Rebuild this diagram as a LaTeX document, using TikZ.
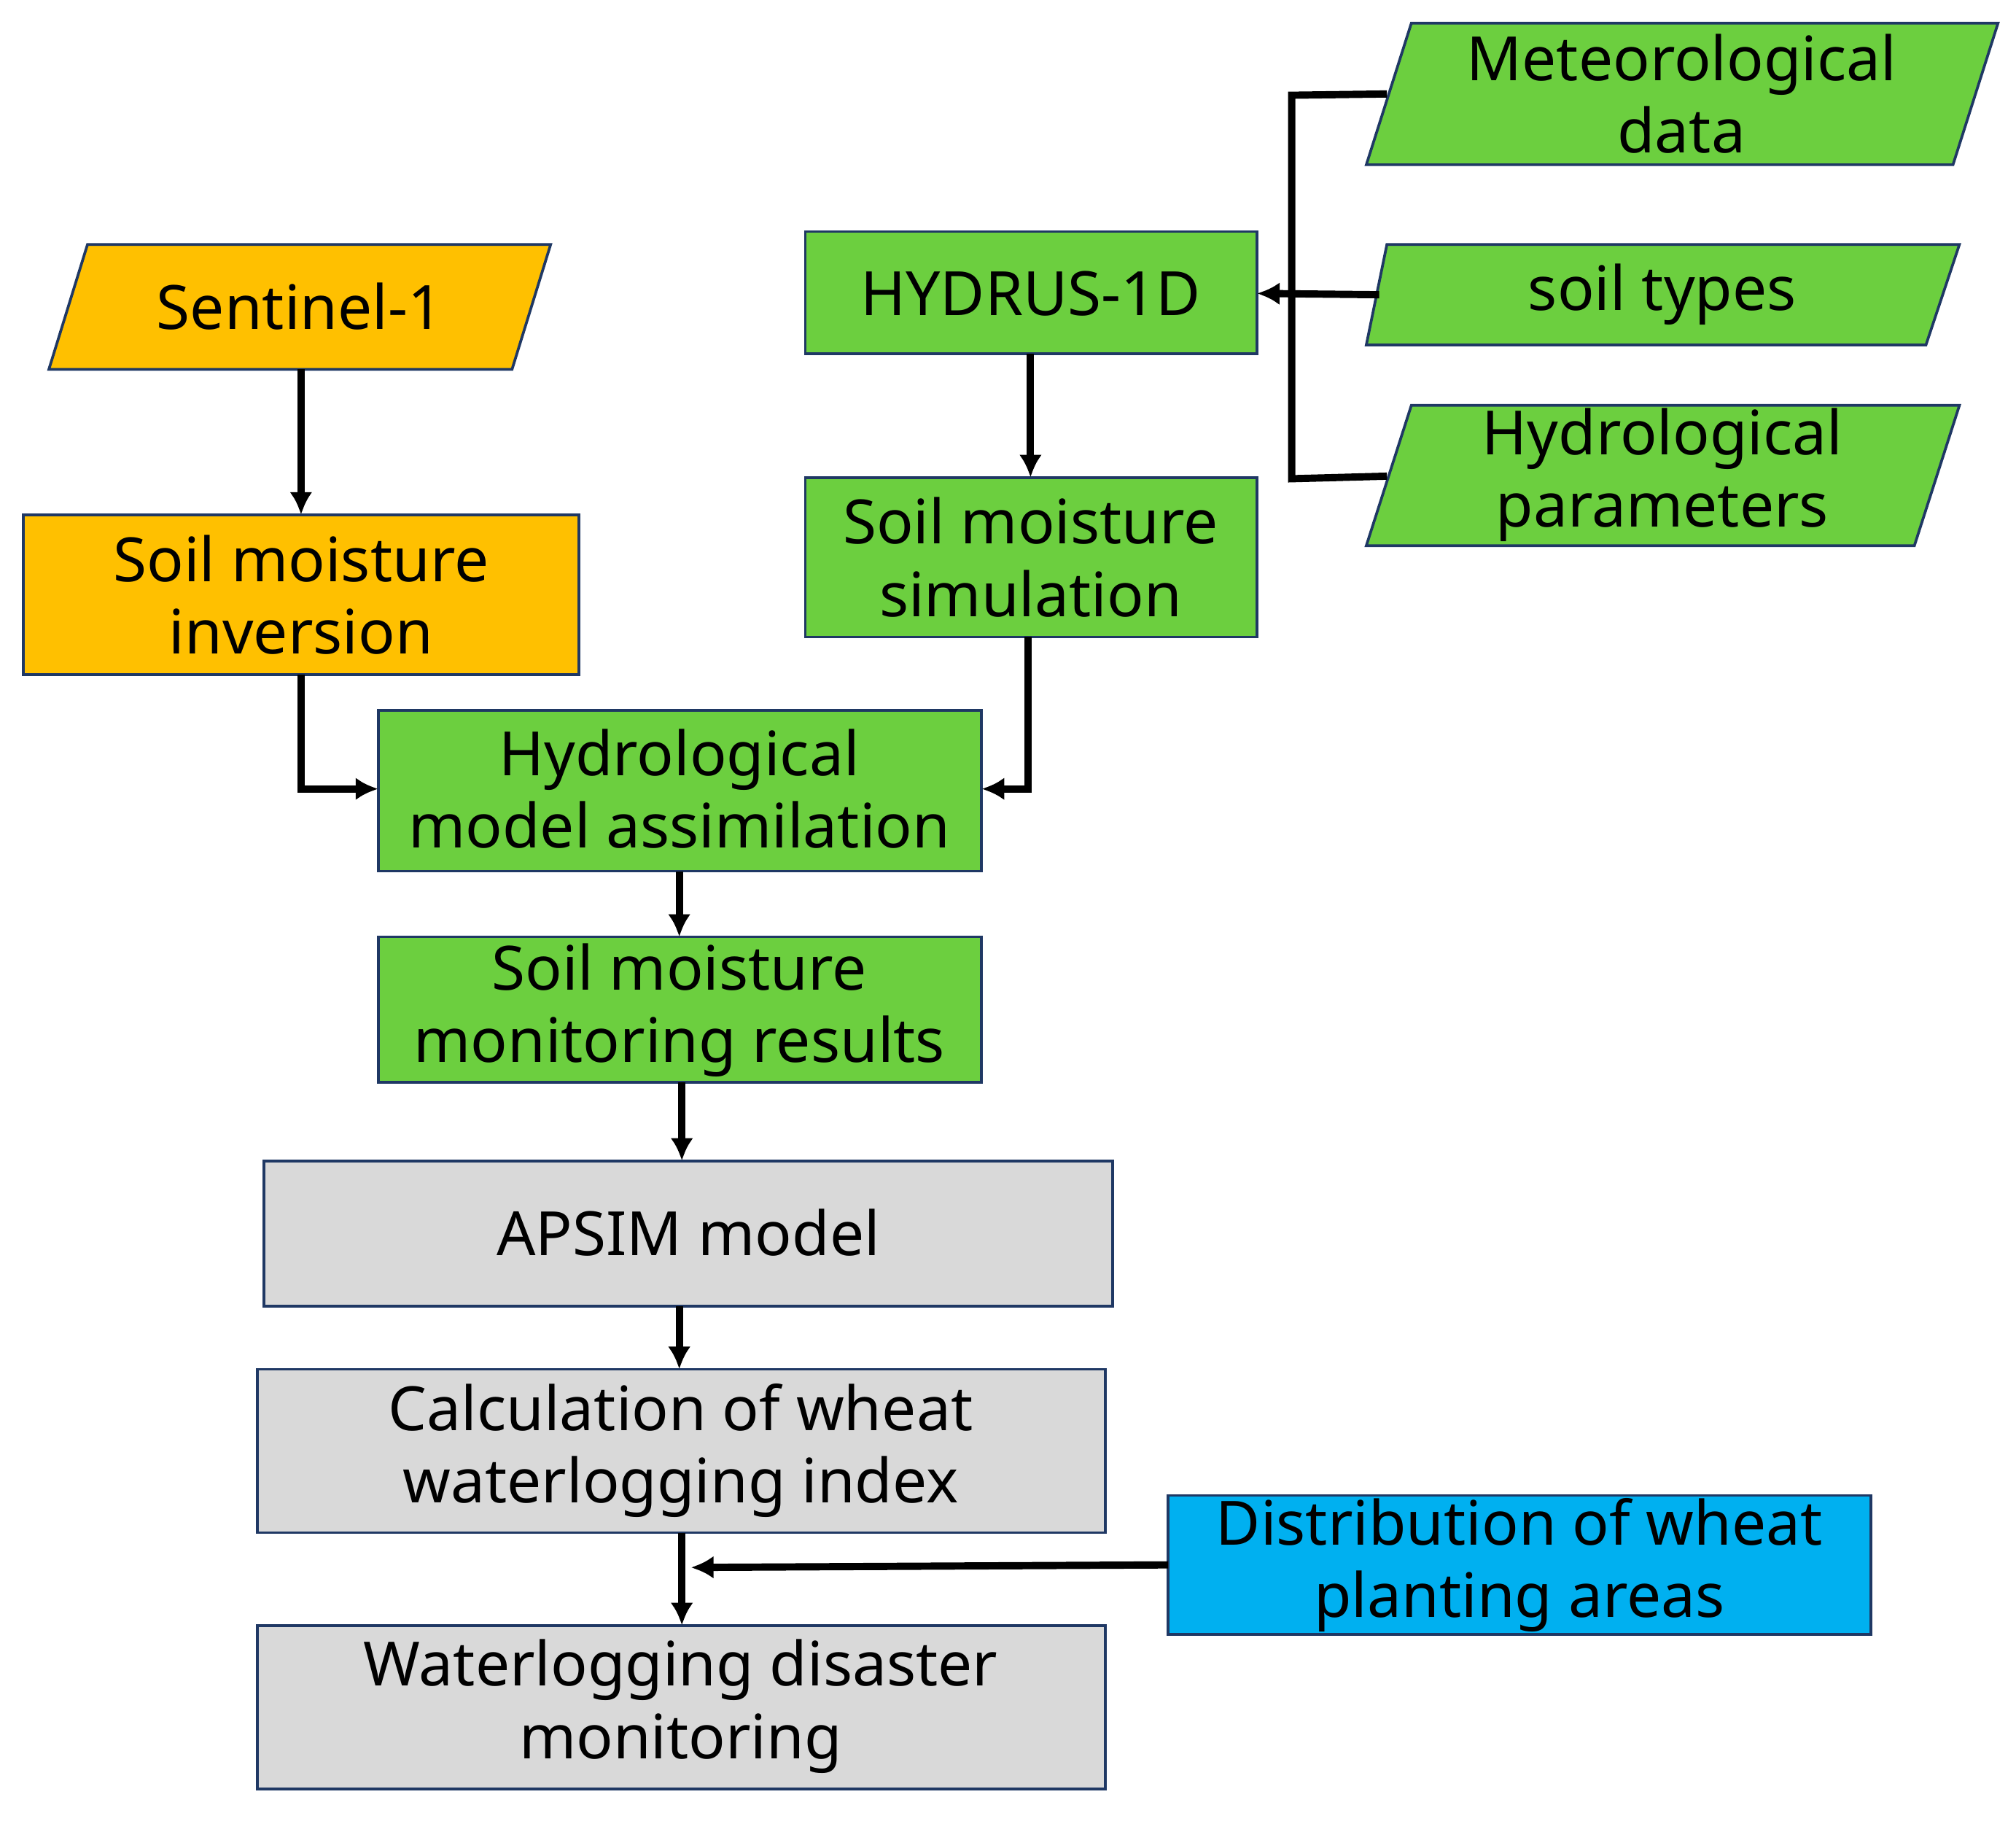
\documentclass[tikz,border=0pt]{standalone}
\usepackage{fontspec}
\setmainfont{Noto Sans}
\usetikzlibrary{arrows.meta}
\definecolor{org}{HTML}{FFC000}
\definecolor{grn}{HTML}{6CCF3F}
\definecolor{gry}{HTML}{D9D9D9}
\definecolor{blu}{HTML}{00B0F0}
\definecolor{bd}{HTML}{1F3864}
\begin{document}
\begin{tikzpicture}[x=0.01cm,y=-0.01cm,
  txt/.style={align=center,font=\fontsize{13.5}{16}\selectfont,inner sep=0pt},
  box/.style={draw=bd,line width=0.6pt},
  ar/.style={line width=1.6pt,-{Latex[length=5pt,width=5pt]}},
  ln/.style={line width=1.6pt}]
\useasboundingbox (0,0) rectangle (1567,1417);
% parallelograms
\filldraw[box,fill=org] (68,190)--(428,190)--(398,287)--(38,287)--cycle;
\node[txt] (s1) at (233,238) {Sentinel-1};
\filldraw[box,fill=grn] (1097,18)--(1553,18)--(1518,128)--(1062,128)--cycle;
\node[txt] (met) at (1307,73) {Meteorological\\data};
\filldraw[box,fill=grn] (1078,190)--(1523,190)--(1497,268)--(1062,268)--cycle;
\node[txt] (soil) at (1292,229) {soil types};
\filldraw[box,fill=grn] (1097,315)--(1523,315)--(1488,424)--(1062,424)--cycle;
\node[txt] (hp) at (1292,369) {Hydrological\\parameters};
% rectangles
\filldraw[box,fill=org] (18,400) rectangle (450,524);
\node[txt] (inv) at (234,462) {Soil moisture\\inversion};
\filldraw[box,fill=grn] (626,180) rectangle (977,275);
\node[txt] (hyd) at (801,228) {HYDRUS-1D};
\filldraw[box,fill=grn] (626,371) rectangle (977,495);
\node[txt] (sim) at (801,433) {Soil moisture\\simulation};
\filldraw[box,fill=grn] (294,552) rectangle (763,677);
\node[txt] (ass) at (528,613) {Hydrological\\model assimilation};
\filldraw[box,fill=grn] (294,728) rectangle (763,841);
\node[txt] (res) at (528,785) {Soil moisture\\monitoring results};
\filldraw[box,fill=gry] (205,902) rectangle (865,1015);
\node[txt] (aps) at (535,958) {APSIM model};
\filldraw[box,fill=gry] (200,1064) rectangle (859,1191);
\node[txt] (cal) at (529,1127) {Calculation of wheat\\waterlogging index};
\filldraw[box,fill=gry] (200,1263) rectangle (859,1390);
\node[txt] (wat) at (529,1326) {Waterlogging disaster\\monitoring};
\filldraw[box,fill=blu] (908,1162) rectangle (1454,1270);
\node[txt] (dis) at (1181,1216) {Distribution of wheat\\planting areas};
% connector coordinates
\coordinate (metw) at (1078,73);
\coordinate (soilw) at (1072,229);
\coordinate (hpw) at (1078,370);
\coordinate (j) at (537,1218);
\draw[ln] (metw) -- (1004,74) -- (1004,372) -- (hpw);
\draw[ar] (soilw) -- (977,228);
\draw[ar] (234,287) -- (234,400);
\draw[ar] (234,524) -- (234,613) -- (294,613);
\draw[ar] (801,275) -- (801,371);
\draw[ar] (799,495) -- (799,613) -- (763,613);
\draw[ar] (528,677) -- (528,728);
\draw[ar] (530,841) -- (530,902);
\draw[ar] (528,1015) -- (528,1064);
\draw[ar] (530,1191) -- (530,1263);
\draw[ar] (908,1216) -- (j);
\end{tikzpicture}
\end{document}
